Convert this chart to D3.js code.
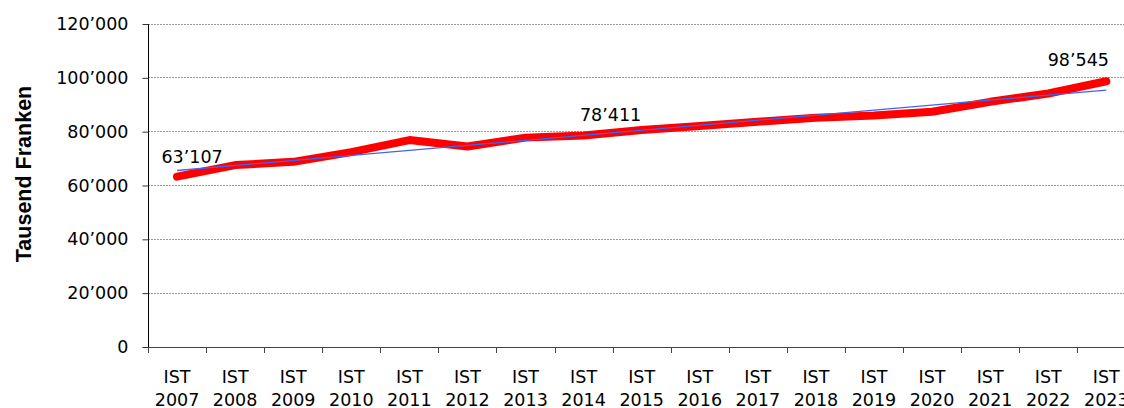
<!DOCTYPE html>
<html>
<head>
<meta charset="utf-8">
<script src="https://cdn.jsdelivr.net/npm/d3@7"></script>
<style>
  body { margin: 0; background: #fff; }
  svg { display: block; font-family: "DejaVu Sans", Verdana, sans-serif; }
</style>
</head>
<body>
<svg id="chart" width="1124" height="408"></svg>
<script>
// values (Tausend Franken)
var years = ['2007', '2008', '2009', '2010', '2011', '2012', '2013', '2014', '2015',
             '2016', '2017', '2018', '2019', '2020', '2021', '2022', '2023'];
var values = [63107, 67400, 68600, 72200, 76700, 74300, 77600, 78411, 80400,
              81900, 83500, 85000, 85800, 87200, 90900, 94000, 98545];
var yTicks = [0, 20000, 40000, 60000, 80000, 100000, 120000];
var labelYears = ['2007', '2014', '2023'];

(function () {
  var svg = d3.select('#chart');
  var plotLeft = 148, plotTop = 23.5, plotBottom = 346.5, step = 58.08;

  var x = d3.scaleBand()
    .domain(years)
    .range([plotLeft, plotLeft + step * years.length])
    .padding(0);
  var y = d3.scaleLinear()
    .domain([0, 120000])
    .range([plotBottom, plotTop]);

  var loc = d3.formatLocale({decimal: '.', thousands: '\u2019', grouping: [3], currency: ['', '']});
  var fmt = loc.format(',d');
  var cx = function(d) { return x(d) + x.bandwidth() / 2; };

  // dotted grid lines
  svg.append('g')
    .selectAll('line')
    .data(yTicks.filter(function(d) { return d > 0; }))
    .enter()
    .append('line')
    .attr('x1', plotLeft)
    .attr('x2', 1124)
    .attr('y1', function(d) { return Math.round(y(d)) + 0.5; })
    .attr('y2', function(d) { return Math.round(y(d)) + 0.5; })
    .attr('stroke', '#9a9a9a')
    .attr('stroke-dasharray', '2,1');

  // y axis
  var yAxis = svg.append('g')
    .attr('transform', 'translate(' + (plotLeft + 0.5) + ',0.5)')
    .call(d3.axisLeft(y).tickValues(yTicks).tickSize(6).tickPadding(14).tickFormat(fmt));
  yAxis.select('.domain').attr('stroke', '#000').attr('d', 'M0,' + plotTop + 'V' + plotBottom);
  yAxis.selectAll('.tick line').attr('stroke', '#333');
  yAxis.selectAll('text')
    .attr('font-size', '17.5px')
    .attr('font-family', '"DejaVu Sans", Verdana, sans-serif')
    .attr('fill', '#000');

  // x axis line and tick marks at band edges
  svg.append('line')
    .attr('x1', plotLeft)
    .attr('x2', 1124)
    .attr('y1', Math.round(plotBottom) + 0.5)
    .attr('y2', Math.round(plotBottom) + 0.5)
    .attr('stroke', '#444');
  svg.append('g')
    .selectAll('line')
    .data(years)
    .enter()
    .append('line')
    .attr('x1', function(d) { return Math.round(x(d)) + 0.5; })
    .attr('x2', function(d) { return Math.round(x(d)) + 0.5; })
    .attr('y1', Math.round(plotBottom))
    .attr('y2', Math.round(plotBottom) + 6)
    .attr('stroke', '#444');

  var xl = svg.append('g')
    .selectAll('text')
    .data(years)
    .enter()
    .append('text')
    .attr('text-anchor', 'middle')
    .attr('font-size', '17.5px')
    .attr('fill', '#000');
  xl.append('tspan')
    .attr('x', cx)
    .attr('y', 383)
    .text('IST');
  xl.append('tspan')
    .attr('x', cx)
    .attr('y', 406)
    .text(function(d) { return d; });

  // y title
  svg.append('text')
    .attr('transform', 'translate(31,174) rotate(-90)')
    .attr('text-anchor', 'middle')
    .attr('font-family', '"Liberation Sans", Arial, sans-serif')
    .attr('font-weight', 'bold')
    .attr('font-size', '21.5px')
    .attr('fill', '#000')
    .text('Tausend Franken');

  // data line
  var line = d3.line()
    .x(function(d, i) { return cx(years[i]); })
    .y(function(d) { return y(d); });
  svg.append('path')
    .datum(values)
    .attr('d', line)
    .attr('fill', 'none')
    .attr('stroke', '#ff0000')
    .attr('stroke-width', 8)
    .attr('stroke-linejoin', 'round')
    .attr('stroke-linecap', 'round');

  // linear trend line (least squares over the series)
  var xm = d3.mean(values, function(d, i) { return i; });
  var ym = d3.mean(values);
  var slope = d3.sum(values, function(d, i) { return (i - xm) * (d - ym); }) /
              d3.sum(values, function(d, i) { return (i - xm) * (i - xm); });
  var trend = [0, values.length - 1].map(function(i) { return {i: i, v: ym + slope * (i - xm)}; });
  svg.append('path')
    .datum(trend)
    .attr('d', d3.line()
      .x(function(d) { return cx(years[d.i]); })
      .y(function(d) { return y(d.v); }))
    .attr('fill', 'none')
    .attr('stroke', '#3f63f5')
    .attr('stroke-width', 1.3);

  // value labels
  var labelShift = {'2007': [15, -14], '2014': [27, -14], '2023': [-28, -15]};
  svg.append('g')
    .selectAll('text')
    .data(labelYears)
    .enter()
    .append('text')
    .attr('x', function(d) { return cx(d) + labelShift[d][0]; })
    .attr('y', function(d) { return y(values[years.indexOf(d)]) + labelShift[d][1]; })
    .attr('text-anchor', 'middle')
    .attr('font-size', '17.5px')
    .attr('fill', '#000')
    .text(function(d) { return fmt(values[years.indexOf(d)]); });
})();
</script>
</body>
</html>
